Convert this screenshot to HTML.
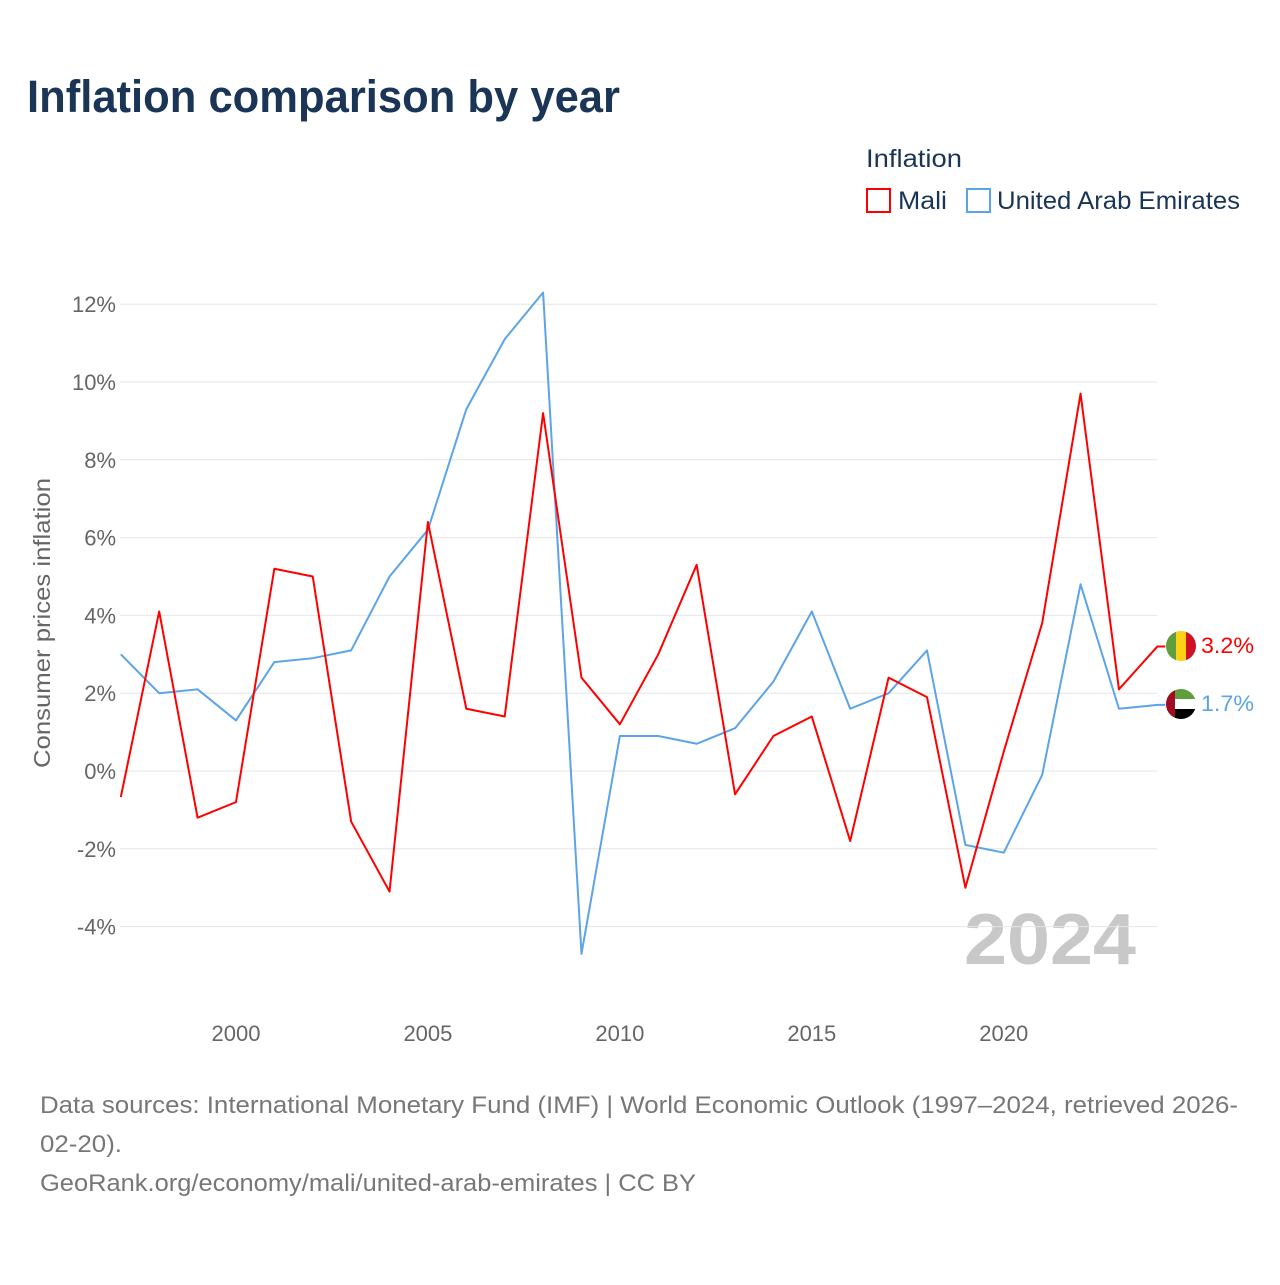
<!DOCTYPE html>
<html><head><meta charset="utf-8"><style>
body{margin:0;background:#fff;font-family:"Liberation Sans",sans-serif}
</style></head><body>
<svg id="c" width="1280" height="1280" xmlns="http://www.w3.org/2000/svg">
<text x="27" y="112" font-size="45" font-weight="bold" fill="#1a3556" textLength="593" lengthAdjust="spacingAndGlyphs">Inflation comparison by year</text>
<text x="866" y="167" font-size="25" fill="#1a3556" textLength="96" lengthAdjust="spacingAndGlyphs">Inflation</text>
<g><rect x="867" y="189" width="23" height="23" fill="none" stroke="#f00" stroke-width="2"/><text x="898" y="209" font-size="25" fill="#1a3556" textLength="49" lengthAdjust="spacingAndGlyphs">Mali</text></g>
<g><rect x="967" y="189" width="23" height="23" fill="none" stroke="#5ba4e8" stroke-width="2"/><text x="997" y="209" font-size="25" fill="#1a3556" textLength="243" lengthAdjust="spacingAndGlyphs">United Arab Emirates</text></g>
<text transform="translate(50,623) rotate(-90)" text-anchor="middle" font-size="23" fill="#666" textLength="290" lengthAdjust="spacingAndGlyphs">Consumer prices inflation</text>
<text x="964" y="964" font-size="72" font-weight="bold" fill="#c8c8c8" textLength="172" lengthAdjust="spacingAndGlyphs">2024</text>
<g id="grid"></g><g id="xt"></g><g id="lines"></g>
<g><clipPath id="f1"><circle cx="1181" cy="646" r="15"/></clipPath><g clip-path="url(#f1)"><rect x="1166" y="631" width="10" height="30" fill="#5e9e3c"/><rect x="1176" y="631" width="10" height="30" fill="#fcd116"/><rect x="1186" y="631" width="10" height="30" fill="#ce1126"/></g></g>
<g><clipPath id="f2"><circle cx="1181" cy="704" r="15"/></clipPath><g clip-path="url(#f2)"><rect x="1166" y="689" width="30" height="10" fill="#5e9e3c"/><rect x="1166" y="699" width="30" height="10" fill="#fff"/><rect x="1166" y="709" width="30" height="10" fill="#000"/><rect x="1166" y="689" width="9" height="30" fill="#a00d20"/></g></g>
<text x="1201" y="653" font-size="22" fill="#f00" textLength="53" lengthAdjust="spacingAndGlyphs">3.2%</text>
<text x="1201" y="711" font-size="22" fill="#5ba4e8" textLength="53" lengthAdjust="spacingAndGlyphs">1.7%</text>
<text x="40" y="1113" font-size="24" fill="#777" textLength="1198" lengthAdjust="spacingAndGlyphs">Data sources: International Monetary Fund (IMF) | World Economic Outlook (1997–2024, retrieved 2026-</text>
<text x="40" y="1152" font-size="24" fill="#777" textLength="82" lengthAdjust="spacingAndGlyphs">02-20).</text>
<text x="40" y="1191" font-size="24" fill="#777" textLength="656" lengthAdjust="spacingAndGlyphs">GeoRank.org/economy/mali/united-arab-emirates | CC BY</text>
</svg>
<script>
const years=[1997,1998,1999,2000,2001,2002,2003,2004,2005,2006,2007,2008,2009,2010,2011,2012,2013,2014,2015,2016,2017,2018,2019,2020,2021,2022,2023,2024];
const mali=[-0.67,4.1,-1.2,-0.8,5.2,5.0,-1.3,-3.1,6.4,1.6,1.4,9.2,2.4,1.2,3.0,5.3,-0.6,0.9,1.4,-1.8,2.4,1.9,-3.0,0.5,3.8,9.7,2.1,3.2];
const uae=[3.0,2.0,2.1,1.3,2.8,2.9,3.1,5.0,6.2,9.3,11.1,12.3,-4.7,0.9,0.9,0.7,1.1,2.3,4.1,1.6,2.0,3.1,-1.9,-2.1,-0.1,4.8,1.6,1.7];
const yTicks=[-4,-2,0,2,4,6,8,10,12];
const xTicks=[2000,2005,2010,2015,2020];
const X=y=>120.8+(y-1997)*38.39, Y=v=>771-v*38.9;
const NS="http://www.w3.org/2000/svg";
function mk(t,a,p){const e=document.createElementNS(NS,t);for(const k in a)e.setAttribute(k,a[k]);p.appendChild(e);return e;}
const g=document.getElementById('grid');
yTicks.forEach(v=>{
 const l=mk('line',{x1:120,x2:1157,y1:Y(v),y2:Y(v),stroke:'#e6e6e6','stroke-width':1},g);
 
 
 const t=mk('text',{x:116,y:Y(v)+8,'text-anchor':'end','font-size':22,fill:'#666'},g);
 t.textContent=v+'%';
 
 
});
const xt=document.getElementById('xt');
xTicks.forEach(y=>{
 const t=mk('text',{x:X(y),y:1041,'text-anchor':'middle','font-size':22,fill:'#666'},xt);
 t.textContent=y;
 
 
});
const L=document.getElementById('lines');
[[uae,'#5ba4e8','uae-line'],[mali,'#f00','mali-line']].forEach(([d,c,n])=>{
 const p=mk('polyline',{points:d.map((v,i)=>X(years[i])+','+Y(v)).join(' ')+' '+(X(2024)+8)+','+Y(d[d.length-1]),fill:'none',stroke:c,'stroke-width':2,'stroke-linejoin':'round'},L);
 
 
});
</script>
</body></html>
